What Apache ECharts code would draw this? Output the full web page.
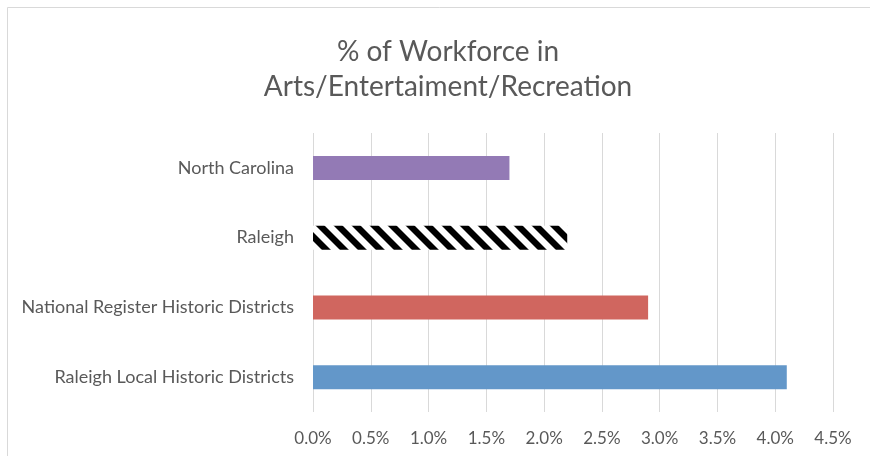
<!DOCTYPE html>
<html><head><meta charset="utf-8">
<script src="https://cdn.jsdelivr.net/npm/echarts@6/dist/echarts.min.js"></script>
<style>html,body{margin:0;padding:0;background:#fff}#c{width:870px;height:456px}</style>
</head><body><div id="c"></div>
<script>
const categories = ['Raleigh Local Historic Districts', 'National Register Historic Districts', 'Raleigh', 'North Carolina'];
const values = [4.1, 2.9, 2.2, 1.7];
const barColors = ['#6397c9', '#d0665f', 'pattern', '#937ab5'];
const tickLabels = ['0.0%','0.5%','1.0%','1.5%','2.0%','2.5%','3.0%','3.5%','4.0%','4.5%'];

function makeStripe(){
  const s = 18, a = 9;
  const c = document.createElement('canvas');
  c.width = s; c.height = s;
  const ctx = c.getContext('2d');
  ctx.fillStyle = '#fff'; ctx.fillRect(0,0,s,s);
  ctx.fillStyle = '#000';
  for (const k of [-s, 0, s]) {
    ctx.beginPath();
    ctx.moveTo(k,0); ctx.lineTo(k+a,0); ctx.lineTo(k+a+s,s); ctx.lineTo(k+s,s);
    ctx.closePath(); ctx.fill();
  }
  return c;
}
const stripe = makeStripe();
const FONT = 'Lato, "Open Sans", sans-serif';
const chart = echarts.init(document.getElementById('c'), null, {renderer:'canvas'});
chart.setOption({
  animation:false,
  backgroundColor:'#fff',
  textStyle:{fontFamily:FONT},
  title:{
    text:'% of Workforce in\nArts/Entertaiment/Recreation',
    left:443, top:29, textAlign:'center',
    textStyle:{fontSize:28, lineHeight:35, fontWeight:'normal', color:'#595959', fontFamily:FONT}
  },
  graphic:[{type:'rect', shape:{x:7.5,y:7.5,width:900,height:500}, style:{fill:'none', stroke:'#d9d9d9', lineWidth:1}, silent:true, z:-1}],
  grid:{left:313, right:37, top:133, bottom:44},
  xAxis:{
    type:'value', min:0, max:4.5, interval:0.5,
    axisLine:{show:false}, axisTick:{show:false},
    splitLine:{lineStyle:{color:'#d9d9d9', width:1}},
    axisLabel:{color:'#595959', fontSize:17, margin:18, fontFamily:FONT,
      formatter:(v)=>tickLabels[Math.round(v/0.5)]}
  },
  yAxis:{
    type:'category', data:categories,
    axisLine:{show:false}, axisTick:{show:false},
    axisLabel:{color:'#595959', fontSize:18, margin:19, fontFamily:FONT}
  },
  series:[{
    type:'bar', barWidth:24,
    data: values.map((v,i)=>({value:v, itemStyle:{color: barColors[i]==='pattern' ? {image:stripe, repeat:'repeat'} : barColors[i]}}))
  }]
});
</script></body></html>
